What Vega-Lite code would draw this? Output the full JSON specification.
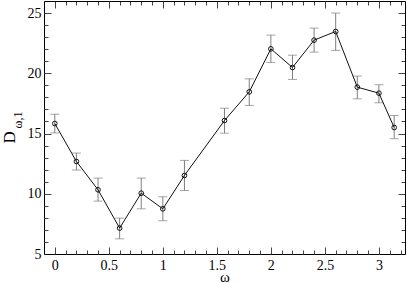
{
  "$schema": "https://vega.github.io/schema/vega-lite/v6.json",
  "autosize": "none",
  "width": 361,
  "height": 253,
  "padding": {"left": 44, "top": 1, "right": 2, "bottom": 29},
  "config": {
    "font": "Liberation Serif",
    "view": {"stroke": null},
    "axis": {"grid": false, "domainColor": "#000", "tickColor": "#444", "labelColor": "#000", "titleColor": "#000", "labelFont": "Liberation Serif", "titleFont": "Liberation Serif", "labelFontSize": 14, "titleFontWeight": "normal"}
  },
  "data": {"values": [
    {"w": 0, "d": 15.83, "lo": 15.05, "hi": 16.6},
    {"w": 0.2, "d": 12.68, "lo": 11.97, "hi": 13.38},
    {"w": 0.4, "d": 10.33, "lo": 9.39, "hi": 11.3},
    {"w": 0.6, "d": 7.15, "lo": 6.26, "hi": 7.98},
    {"w": 0.8, "d": 10.05, "lo": 8.75, "hi": 11.3},
    {"w": 1.0, "d": 8.75, "lo": 7.76, "hi": 9.75},
    {"w": 1.2, "d": 11.52, "lo": 10.27, "hi": 12.77},
    {"w": 1.5708, "d": 16.08, "lo": 15.03, "hi": 17.1},
    {"w": 1.8, "d": 18.46, "lo": 17.33, "hi": 19.54},
    {"w": 2.0, "d": 22.03, "lo": 20.9, "hi": 23.17},
    {"w": 2.2, "d": 20.48, "lo": 19.49, "hi": 21.5},
    {"w": 2.4, "d": 22.75, "lo": 21.76, "hi": 23.75},
    {"w": 2.6, "d": 23.47, "lo": 21.9, "hi": 25.0},
    {"w": 2.8, "d": 18.85, "lo": 17.88, "hi": 19.77},
    {"w": 3.0, "d": 18.35, "lo": 17.55, "hi": 19.05},
    {"w": 3.1416, "d": 15.5, "lo": 14.57, "hi": 16.5}
  ]},
  "layer": [
    {
      "mark": {"type": "errorbar", "ticks": {"size": 9, "color": "#7f7f7f"}, "rule": {"color": "#7f7f7f"}},
      "encoding": {
        "x": {"field": "w", "type": "quantitative", "scale": {"domain": [-0.1, 3.2416], "nice": false, "zero": false},
          "axis": {"orient": "bottom", "ticks": false, "labels": true, "domain": true, "values": [0, 0.5, 1, 1.5, 2, 2.5, 3], "format": "~g", "labelFont": "Liberation Serif", "labelFontSize": 14, "labelPadding": 4, "labelFlush": false, "title": "ω", "titleFont": "Liberation Serif", "titleFontSize": 15, "titleY": 27, "titleBaseline": "alphabetic"}},
        "y": {"field": "lo", "type": "quantitative", "scale": {"domain": [5, 26], "nice": false, "zero": false},
          "axis": {"orient": "left", "ticks": false, "labels": true, "domain": true, "values": [5, 10, 15, 20, 25], "format": "~g", "labelFont": "Liberation Serif", "labelFontSize": 14, "labelPadding": 3, "labelFlush": false, "title": "D", "titleFont": "Liberation Serif", "titleFontSize": 17, "titleAngle": -90, "titleAlign": "left", "titleBaseline": "alphabetic", "titleX": -30, "titleY": 142}},
        "y2": {"field": "hi"}
      }
    },
    {
      "mark": {"type": "line", "color": "#111", "strokeWidth": 1},
      "encoding": {
        "x": {"field": "w", "type": "quantitative", "scale": {"domain": [-0.1, 3.2416], "nice": false, "zero": false},
          "axis": {"orient": "bottom", "ticks": true, "labels": false, "domain": false, "title": null,
            "values": [0, 0.1, 0.2, 0.3, 0.4, 0.5, 0.6, 0.7, 0.8, 0.9, 1, 1.1, 1.2, 1.3, 1.4, 1.5, 1.6, 1.7, 1.8, 1.9, 2, 2.1, 2.2, 2.3, 2.4, 2.5, 2.6, 2.7, 2.8, 2.9, 3, 3.1, 3.2],
            "tickSize": {"condition": {"test": "abs(datum.value*2 - round(datum.value*2)) < 0.001", "value": -7}, "value": -4}}},
        "y": {"field": "d", "type": "quantitative", "scale": {"domain": [5, 26], "nice": false, "zero": false},
          "axis": {"orient": "left", "ticks": true, "labels": false, "domain": false,
            "values": [6, 7, 8, 9, 10, 11, 12, 13, 14, 15, 16, 17, 18, 19, 20, 21, 22, 23, 24, 25],
            "tickSize": {"condition": {"test": "datum.value % 5 === 0", "value": -7}, "value": -4},
            "title": "ω,1", "titleFont": "Liberation Serif", "titleFontSize": 12, "titleAngle": -90, "titleAlign": "left", "titleBaseline": "alphabetic", "titleX": -23, "titleY": 127}}
      }
    },
    {
      "mark": {"type": "point", "shape": "circle", "filled": false, "color": "#111", "size": 22, "strokeWidth": 1, "opacity": 1},
      "encoding": {
        "x": {"field": "w", "type": "quantitative", "scale": {"domain": [-0.1, 3.2416], "nice": false, "zero": false},
          "axis": {"orient": "top", "ticks": true, "labels": false, "domain": true, "title": null,
            "values": [0, 0.1, 0.2, 0.3, 0.4, 0.5, 0.6, 0.7, 0.8, 0.9, 1, 1.1, 1.2, 1.3, 1.4, 1.5, 1.6, 1.7, 1.8, 1.9, 2, 2.1, 2.2, 2.3, 2.4, 2.5, 2.6, 2.7, 2.8, 2.9, 3, 3.1, 3.2],
            "tickSize": {"condition": {"test": "abs(datum.value*2 - round(datum.value*2)) < 0.001", "value": -7}, "value": -4}}},
        "y": {"field": "d", "type": "quantitative", "scale": {"domain": [5, 26], "nice": false, "zero": false},
          "axis": {"orient": "right", "ticks": true, "labels": false, "domain": true, "title": null,
            "values": [6, 7, 8, 9, 10, 11, 12, 13, 14, 15, 16, 17, 18, 19, 20, 21, 22, 23, 24, 25],
            "tickSize": {"condition": {"test": "datum.value % 5 === 0", "value": -7}, "value": -4}}}
      }
    }
  ],
  "resolve": {"axis": {"x": "independent", "y": "independent"}}
}
